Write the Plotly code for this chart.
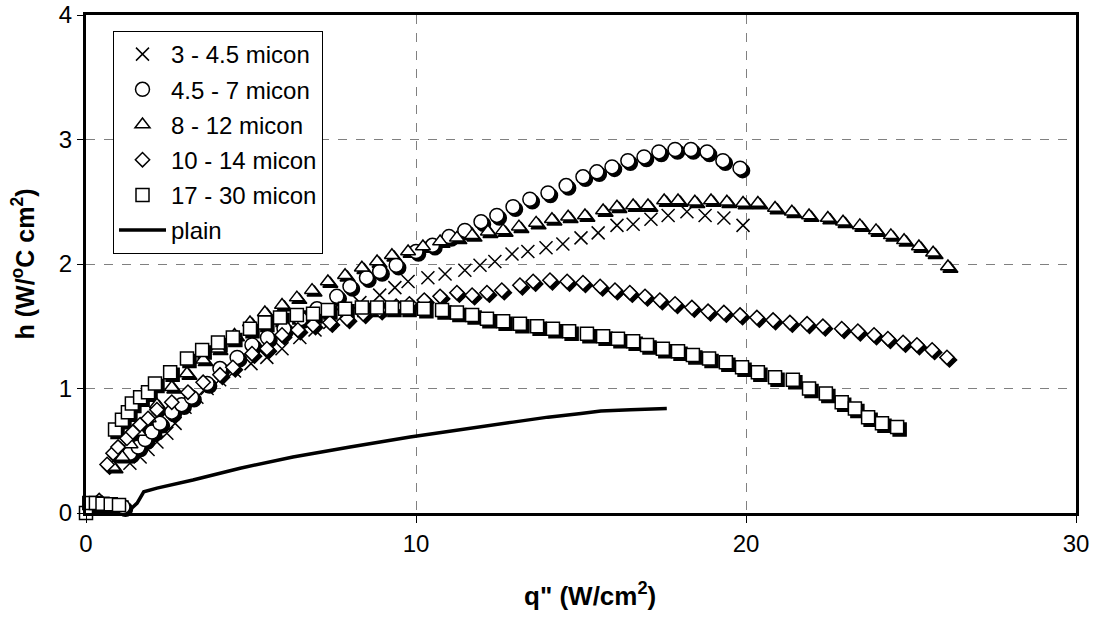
import plotly.graph_objects as go

# ---------------- data ----------------
x_3_45 = [1.33, 1.64, 1.88, 2.15, 2.45, 2.7, 3.0, 3.36, 3.67, 4.05, 4.5, 5.0, 5.48, 5.94, 6.48, 6.94,
          7.39, 7.79, 8.3, 8.9, 9.36, 9.76, 10.36, 10.88, 11.48, 11.94, 12.39, 12.91, 13.39, 13.94,
          14.45, 15.0, 15.52, 16.09, 16.58, 17.12, 17.64, 18.21, 18.76, 19.33, 19.91]
y_3_45 = [0.40, 0.45, 0.51, 0.57, 0.64, 0.72, 0.85, 0.93, 1.00, 1.07, 1.14, 1.20, 1.25, 1.32, 1.41, 1.47,
          1.53, 1.59, 1.69, 1.75, 1.81, 1.86, 1.89, 1.92, 1.95, 1.99, 2.02, 2.08, 2.10, 2.13,
          2.16, 2.21, 2.25, 2.31, 2.32, 2.36, 2.39, 2.42, 2.39, 2.37, 2.31]

x_45_7 = [1.12, 1.33, 1.58, 1.79, 2.0, 2.24, 2.6, 2.9, 3.2, 3.67, 4.06, 4.58, 5.03, 5.5, 6.0, 6.5, 7.0,
          7.6, 8.0, 8.5, 8.9, 9.4, 10.0, 10.5, 11.0, 11.48, 11.97, 12.45, 12.94, 13.45, 14.0, 14.55,
          15.06, 15.48, 15.94, 16.42, 16.91, 17.36, 17.85, 18.33, 18.82, 19.30, 19.82]
y_45_7 = [0.05, 0.48, 0.53, 0.59, 0.65, 0.72, 0.81, 0.87, 0.93, 1.04, 1.16, 1.25, 1.35, 1.41, 1.48, 1.56,
          1.64, 1.74, 1.82, 1.89, 1.94, 1.99, 2.10, 2.15, 2.22, 2.27, 2.34, 2.39, 2.46, 2.52, 2.57,
          2.63, 2.70, 2.74, 2.78, 2.83, 2.86, 2.90, 2.92, 2.92, 2.90, 2.83, 2.77]

x_8_12 = [0.82, 1.1, 1.35, 1.6, 1.9, 2.15, 2.6, 3.06, 3.55, 4.0, 4.5, 4.97, 5.42, 5.94, 6.39, 6.85, 7.33,
          7.85, 8.36, 8.82, 9.27, 9.76, 10.21, 10.73, 11.24, 11.70, 12.18, 12.64, 13.12, 13.64, 14.12,
          14.61, 15.12, 15.67, 16.09, 16.58, 17.03, 17.52, 17.94, 18.45, 18.94, 19.42, 19.91, 20.36,
          20.88, 21.39, 21.91, 22.48, 22.94, 23.45, 23.94, 24.39, 24.79, 25.24, 25.67, 26.12]
y_8_12 = [0.37, 0.45, 0.55, 0.65, 0.76, 0.87, 1.01, 1.12, 1.23, 1.32, 1.43, 1.53, 1.61, 1.67, 1.73, 1.79,
          1.86, 1.91, 1.97, 2.02, 2.07, 2.10, 2.14, 2.18, 2.21, 2.23, 2.26, 2.27, 2.30, 2.33, 2.36,
          2.38, 2.39, 2.43, 2.46, 2.47, 2.47, 2.51, 2.51, 2.50, 2.51, 2.50, 2.49, 2.49,
          2.45, 2.42, 2.39, 2.37, 2.34, 2.31, 2.27, 2.23, 2.19, 2.14, 2.09, 1.98]

x_10_14 = [0.4, 0.64, 0.82, 0.97, 1.24, 1.42, 1.64, 1.88, 2.15, 2.6, 3.09, 3.55, 4.06, 4.45, 5.03, 5.48,
           5.94, 6.42, 6.88, 7.39, 7.91, 8.4, 8.9, 9.4, 9.8, 10.25, 10.73, 11.24, 11.7, 12.15, 12.6,
           13.15, 13.55, 14.06, 14.58, 15.06, 15.58, 16.03, 16.48, 16.94, 17.39, 17.85, 18.36, 18.85,
           19.33, 19.82, 20.33, 20.82, 21.33, 21.85, 22.33, 22.9, 23.39, 23.88, 24.3, 24.76, 25.18,
           25.64, 26.09]
y_10_14 = [0.10, 0.39, 0.48, 0.53, 0.60, 0.65, 0.71, 0.76, 0.83, 0.89, 0.97, 1.05, 1.11, 1.17, 1.28, 1.32,
           1.43, 1.47, 1.51, 1.53, 1.56, 1.60, 1.63, 1.66, 1.68, 1.71, 1.74, 1.77, 1.75, 1.77, 1.79,
           1.83, 1.86, 1.87, 1.86, 1.85, 1.82, 1.79, 1.77, 1.74, 1.71, 1.68, 1.65, 1.62,
           1.61, 1.59, 1.57, 1.55, 1.53, 1.52, 1.50, 1.48, 1.46, 1.43, 1.40, 1.37, 1.35,
           1.31, 1.25]

x_17_30 = [0.0, 0.1, 0.3, 0.5, 0.75, 1.0, 0.88, 1.09, 1.27, 1.39, 1.64, 1.88, 2.09, 2.55, 3.06, 3.52, 4.0,
           4.45, 4.97, 5.42, 5.88, 6.39, 6.88, 7.33, 7.85, 8.36, 8.82, 9.27, 9.73, 10.24, 10.79, 11.24,
           11.7, 12.15, 12.64, 13.15, 13.67, 14.15, 14.64, 15.18, 15.67, 16.12, 16.58, 17.0, 17.48,
           17.94, 18.39, 18.88, 19.39, 19.88, 20.36, 20.88, 21.42, 21.91, 22.42, 22.9, 23.3, 23.7,
           24.12, 24.58]
y_17_30 = [0.0, 0.08, 0.08, 0.075, 0.07, 0.065, 0.67, 0.75, 0.81, 0.88, 0.93, 0.97, 1.04, 1.13, 1.24, 1.31,
           1.37, 1.41, 1.48, 1.53, 1.57, 1.59, 1.60, 1.63, 1.64, 1.65, 1.65, 1.65, 1.65, 1.64, 1.63,
           1.61, 1.59, 1.56, 1.54, 1.52, 1.50, 1.48, 1.46, 1.44, 1.42, 1.40, 1.38, 1.35, 1.32,
           1.30, 1.27, 1.24, 1.21, 1.17, 1.13, 1.09, 1.07, 1.00, 0.96, 0.89, 0.84, 0.77,
           0.72, 0.69]

x_plain = [0.0, 1.35, 1.55, 1.75, 2.15, 3.24, 4.67, 6.27, 8.0, 9.82, 12.94, 14.0, 15.0, 15.6, 16.5, 17.6]
y_plain = [0.0, 0.03, 0.08, 0.17, 0.20, 0.265, 0.36, 0.45, 0.53, 0.61, 0.73, 0.77, 0.80, 0.82, 0.83, 0.84]

names = ["3 - 4.5 micon", "4.5 - 7 micon", "8 - 12 micon", "10 - 14 micon", "17 - 30 micon", "plain"]
x_ticks = [0, 10, 20, 30]
y_ticks = [0, 1, 2, 3, 4]
x_title = "<b>q\" (W/cm<sup>2</sup>)</b>"
y_title = "<b>h (W/<sup>o</sup>C cm<sup>2</sup>)</b>"

# ---------------- layout constants ----------------
W, H = 1098, 620
ML, MR, MT, MB = 86, 22, 15, 107
XR = [0, 30]
YR = [0, 4]
pw, ph = W - ML - MR, H - MT - MB
sx = 2.5 * (XR[1] - XR[0]) / pw   # shadow offset, data units (right)
sy = 2.5 * (YR[1] - YR[0]) / ph   # shadow offset, data units (down)

FONT = "Liberation Sans, Arial, sans-serif"

fig = go.Figure()

# plain line on the main (visible) axes
fig.add_trace(go.Scatter(x=x_plain, y=y_plain, mode="lines", name=names[5],
                         legendrank=1006, legendgroup="g5",
                         line=dict(color="black", width=3.5), cliponaxis=False))

marker_series = [
    (x_45_7, y_45_7, "circle", 14, names[1]),
    (x_8_12, y_8_12, "triangle-up", 13, names[2]),
    (x_10_14, y_10_14, "diamond", 11, names[3]),
    (x_17_30, y_17_30, "square", 13, names[4]),
]

# shadows (overlay axes shifted by a couple of pixels)
for xs, ys, sym, sz, nm in marker_series:
    fig.add_trace(go.Scatter(x=xs, y=ys, mode="markers", xaxis="x2", yaxis="y2",
                             marker=dict(symbol=sym, size=sz, color="black",
                                         line=dict(color="black", width=1.5)),
                             showlegend=False, hoverinfo="skip", cliponaxis=False))

# visible markers
fig.add_trace(go.Scatter(x=x_3_45, y=y_3_45, mode="markers", name=names[0], xaxis="x3", yaxis="y3",
                         legendgroup="g0", legendrank=1000,
                         marker=dict(symbol="x-thin", size=13, color="black",
                                     line=dict(color="black", width=1.5)),
                         cliponaxis=False))
for i, (xs, ys, sym, sz, nm) in enumerate(marker_series):
    fig.add_trace(go.Scatter(x=xs, y=ys, mode="markers", name=nm, xaxis="x3", yaxis="y3",
                             legendgroup="g%d" % (i + 1), legendrank=1001 + i,
                             marker=dict(symbol=sym, size=sz, color="white",
                                         line=dict(color="black", width=1.5)),
                             cliponaxis=False))

axis_common = dict(showgrid=False, zeroline=False, showticklabels=False, showline=False, ticks="",
                   automargin=False)

fig.update_layout(
    width=W, height=H,
    margin=dict(l=ML, r=MR, t=MT, b=MB, autoexpand=False),
    paper_bgcolor="white", plot_bgcolor="white",
    font=dict(family=FONT, size=24, color="black"),
    showlegend=True,
    legend=dict(x=(113 - ML) / pw, y=(H - MB - 31) / ph, xanchor="left", yanchor="top",
                bgcolor="white", bordercolor="black", borderwidth=1,
                font=dict(family=FONT, size=24, color="black"),
                tracegroupgap=1, itemwidth=47),
    xaxis=dict(range=XR, tickvals=x_ticks, ticks="outside", ticklen=7, tickwidth=1,
               tickcolor="black", showline=True, linewidth=3, linecolor="black", mirror=True,
               showgrid=True, gridcolor="#808080", gridwidth=1, griddash="dash",
               zeroline=False, tickfont=dict(size=24), automargin=False,
               ticklabeloverflow="allow"),
    yaxis=dict(range=YR, tickvals=y_ticks, ticks="outside", ticklen=6, tickwidth=1,
               tickcolor="black", showline=True, linewidth=3, linecolor="black", mirror=True,
               showgrid=True, gridcolor="#808080", gridwidth=1, griddash="dash",
               zeroline=False, tickfont=dict(size=24), automargin=False,
               ticklabeloverflow="allow",
               title=dict(text=y_title, font=dict(size=25), standoff=18)),
    xaxis2=dict(axis_common, range=[XR[0] - sx, XR[1] - sx], overlaying="x"),
    yaxis2=dict(axis_common, range=[YR[0] + sy, YR[1] + sy], overlaying="y"),
    xaxis3=dict(axis_common, range=XR, overlaying="x"),
    yaxis3=dict(axis_common, range=YR, overlaying="y"),
    annotations=[dict(text=x_title, xref="paper", yref="paper",
                      x=(590 - ML) / pw, y=0, xanchor="center", yanchor="middle",
                      yshift=-(594 - (H - MB)), showarrow=False,
                      font=dict(family=FONT, size=26, color="black"))],
)

fig.write_html("out.html", config={"displayModeBar": False},
               post_script="document.body.style.margin='0px';")
